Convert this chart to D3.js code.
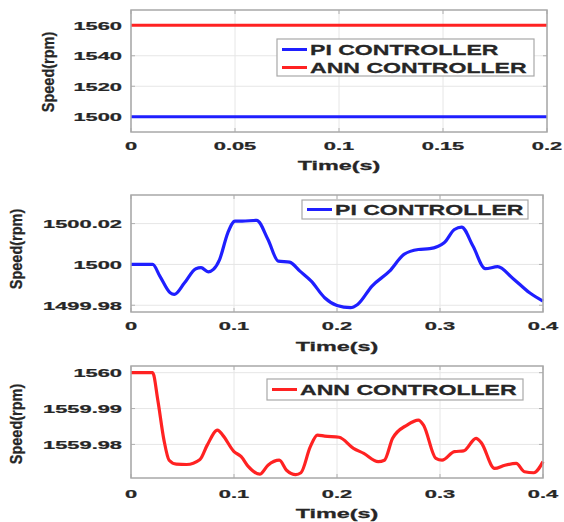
<!DOCTYPE html>
<html>
<head>
<meta charset="utf-8">
<script src="https://cdn.jsdelivr.net/npm/d3@7"></script>
<style>
  body { margin: 0; background: #fff; }
  svg { display: block; }
  text { font-family: "Liberation Sans", Arial, sans-serif; font-weight: bold; fill: #262626; }
</style>
</head>
<body>
<div id="container"></div>
<script>
// ---- data ----
const constTime = [0, 0.2];
const piConst = [1500, 1500];
const annConst = [1560, 1560];

const piTime = [0, 0.021, 0.028, 0.038, 0.042, 0.052, 0.063, 0.068, 0.075, 0.08, 0.086, 0.094, 0.101, 0.108, 0.122,
  0.133, 0.143, 0.154, 0.164, 0.175, 0.188, 0.2, 0.213, 0.22, 0.234, 0.251, 0.265, 0.279, 0.29, 0.304, 0.314,
  0.321, 0.332, 0.344, 0.356, 0.37, 0.387, 0.4];
const piSpeed = [1500, 1500, 1499.9943, 1499.9861, 1499.9853, 1499.991, 1499.9979, 1499.9984, 1499.9964, 1499.9976,
  1500.0024, 1500.0155, 1500.0212, 1500.0212, 1500.0216, 1500.0122, 1500.0016, 1500.0011, 1499.9967, 1499.9918,
  1499.9837, 1499.9799, 1499.9788, 1499.9804, 1499.9894, 1499.9967, 1500.0049, 1500.0073, 1500.0077, 1500.0106,
  1500.0171, 1500.0183, 1500.009, 1499.9979, 1499.9989, 1499.9935, 1499.9861, 1499.982];

const annTime = [0, 0.021, 0.026, 0.032, 0.037, 0.044, 0.054, 0.067, 0.074, 0.084, 0.089, 0.1, 0.107, 0.114, 0.125,
  0.133, 0.144, 0.151, 0.16, 0.165, 0.174, 0.181, 0.188, 0.202, 0.216, 0.226, 0.24, 0.246, 0.254, 0.268, 0.279,
  0.284, 0.296, 0.302, 0.314, 0.323, 0.335, 0.34, 0.353, 0.363, 0.374, 0.382, 0.391, 0.4];
const annSpeed = [1560, 1560, 1559.9924, 1559.9812, 1559.9756, 1559.9745, 1559.9744, 1559.9758, 1559.9798, 1559.984,
  1559.9826, 1559.978, 1559.9766, 1559.9738, 1559.9717, 1559.9742, 1559.9756, 1559.9728, 1559.9716, 1559.9721,
  1559.9793, 1559.9826, 1559.9823, 1559.982, 1559.9789, 1559.9775, 1559.9752, 1559.9756, 1559.9817, 1559.9854,
  1559.9868, 1559.9854, 1559.9761, 1559.9756, 1559.978, 1559.9782, 1559.9817, 1559.9805, 1559.9733, 1559.9742,
  1559.9747, 1559.9724, 1559.9721, 1559.9752];

const ticks1X = [0, 0.05, 0.1, 0.15, 0.2];
const ticks1Y = [1500, 1520, 1540, 1560];
const ticks2X = [0, 0.1, 0.2, 0.3, 0.4];
const ticks2Y = [1499.98, 1500, 1500.02];
const ticks3Y = [1559.98, 1559.99, 1560];

const BLUE = "#1f1fff";
const RED = "#ff2222";

const svg = d3.select("#container").append("svg")
  .attr("width", 564)
  .attr("height", 522);

// text in the figure is stretched sideways
function sText(g, x, y, str, size, sx, anchor) {
  return g.append("text")
    .attr("transform", `translate(${x},${y}) scale(${sx},1)`)
    .attr("text-anchor", anchor)
    .attr("font-size", size)
    .attr("stroke", "#262626")
    .attr("stroke-width", 0.25)
    .text(str);
}

function panel(cfg) {
  const x = d3.scaleLinear().domain(cfg.xDom).range([cfg.left, cfg.right]);
  const y = d3.scaleLinear().domain(cfg.yDom).range([cfg.bottom, cfg.top]);
  const g = svg.append("g");

  // grid
  g.selectAll(".gx").data(cfg.xTicks).enter().append("line")
    .attr("x1", d => x(d)).attr("x2", d => x(d))
    .attr("y1", cfg.top).attr("y2", cfg.bottom)
    .attr("stroke", "#e6e6e6").attr("stroke-width", 1);
  g.selectAll(".gy").data(cfg.yTicks).enter().append("line")
    .attr("x1", cfg.left).attr("x2", cfg.right)
    .attr("y1", d => y(d)).attr("y2", d => y(d))
    .attr("stroke", "#e6e6e6").attr("stroke-width", 1);

  // small inward ticks on all sides
  cfg.yTicks.forEach(d => {
    g.append("line").attr("x1", cfg.left).attr("x2", cfg.left + 4)
      .attr("y1", y(d)).attr("y2", y(d)).attr("stroke", "#b0b0b0");
    g.append("line").attr("x1", cfg.right).attr("x2", cfg.right - 4)
      .attr("y1", y(d)).attr("y2", y(d)).attr("stroke", "#b0b0b0");
  });
  cfg.xTicks.forEach(d => {
    g.append("line").attr("x1", x(d)).attr("x2", x(d))
      .attr("y1", cfg.bottom).attr("y2", cfg.bottom - 4).attr("stroke", "#b0b0b0");
    g.append("line").attr("x1", x(d)).attr("x2", x(d))
      .attr("y1", cfg.top).attr("y2", cfg.top + 4).attr("stroke", "#b0b0b0");
  });

  // lines
  cfg.series.forEach(s => {
    const pts = s.t.map((t, i) => [t, s.v[i]]);
    g.append("path")
      .datum(pts)
      .attr("fill", "none")
      .attr("stroke", s.color)
      .attr("stroke-width", 3.2)
      .attr("stroke-linejoin", "round")
      .attr("d", d3.line().x(d => x(d[0])).y(d => y(d[1])).curve(d3.curveMonotoneX));
  });

  // box
  g.append("rect")
    .attr("x", cfg.left).attr("y", cfg.top)
    .attr("width", cfg.right - cfg.left).attr("height", cfg.bottom - cfg.top)
    .attr("fill", "none").attr("stroke", "#a8a8a8").attr("stroke-width", 1.5);

  // tick labels
  cfg.xTicks.forEach(d => sText(g, x(d), cfg.xLabelY, String(d), 11.5, 1.9, "middle"));
  cfg.yTicks.forEach(d => sText(g, cfg.left - 9, y(d) + 4.5, cfg.yFmt(d), 11.5, 1.9, "end"));

  // axis titles
  sText(g, (cfg.left + cfg.right) / 2, cfg.titleY, "Time(s)", 12, 1.95, "middle");
  g.append("text")
    .attr("transform", `translate(${cfg.ylabX},${cfg.ylabY}) scale(1.2,1) rotate(-90)`)
    .attr("text-anchor", "middle")
    .attr("font-size", 14.5)
    .attr("stroke", "#262626")
    .attr("stroke-width", 0.25)
    .text("Speed(rpm)");

  // legend
  const L = cfg.legend;
  g.append("rect")
    .attr("x", L.x).attr("y", L.y).attr("width", L.w).attr("height", L.h)
    .attr("fill", "#fff").attr("stroke", "#a8a8a8").attr("stroke-width", 1.2);
  L.items.forEach((it, i) => {
    const cy = L.rowY[i];
    g.append("line")
      .attr("x1", L.x + 5).attr("x2", L.x + 30)
      .attr("y1", cy).attr("y2", cy)
      .attr("stroke", it.color).attr("stroke-width", 3);
    sText(g, L.x + 33, cy + 5.2, it.label, 14, 1.65, "start");
  });
}

const fmt0 = d => d3.format("d")(d);
const fmt2 = d => (Number.isInteger(d) ? String(d) : d.toFixed(2));

panel({
  left: 131, right: 547, top: 10, bottom: 132,
  xDom: [0, 0.2], yDom: [1490, 1570],
  xTicks: ticks1X, yTicks: ticks1Y, yFmt: fmt0,
  xLabelY: 150, titleY: 170, ylabX: 54, ylabY: 72,
  series: [
    { t: constTime, v: piConst, color: BLUE },
    { t: constTime, v: annConst, color: RED }
  ],
  legend: { x: 277, y: 39, w: 257, h: 37, rowY: [49.5, 67.5],
    items: [{ label: "PI CONTROLLER", color: BLUE }, { label: "ANN CONTROLLER", color: RED }] }
});

panel({
  left: 131, right: 543, top: 195, bottom: 312,
  xDom: [0, 0.4], yDom: [1499.9767, 1500.034],
  xTicks: ticks2X, yTicks: ticks2Y, yFmt: fmt2,
  xLabelY: 330, titleY: 351, ylabX: 22, ylabY: 249,
  series: [{ t: piTime, v: piSpeed, color: BLUE }],
  legend: { x: 302, y: 200, w: 226, h: 19, rowY: [209.5],
    items: [{ label: "PI CONTROLLER", color: BLUE }] }
});

panel({
  left: 131, right: 543, top: 366, bottom: 478,
  xDom: [0, 0.4], yDom: [1559.97064, 1560.00186],
  xTicks: ticks2X, yTicks: ticks3Y, yFmt: fmt2,
  xLabelY: 498, titleY: 518, ylabX: 22, ylabY: 424,
  series: [{ t: annTime, v: annSpeed, color: RED }],
  legend: { x: 267, y: 379, w: 256, h: 21, rowY: [389.5],
    items: [{ label: "ANN CONTROLLER", color: RED }] }
});
</script>
</body>
</html>
